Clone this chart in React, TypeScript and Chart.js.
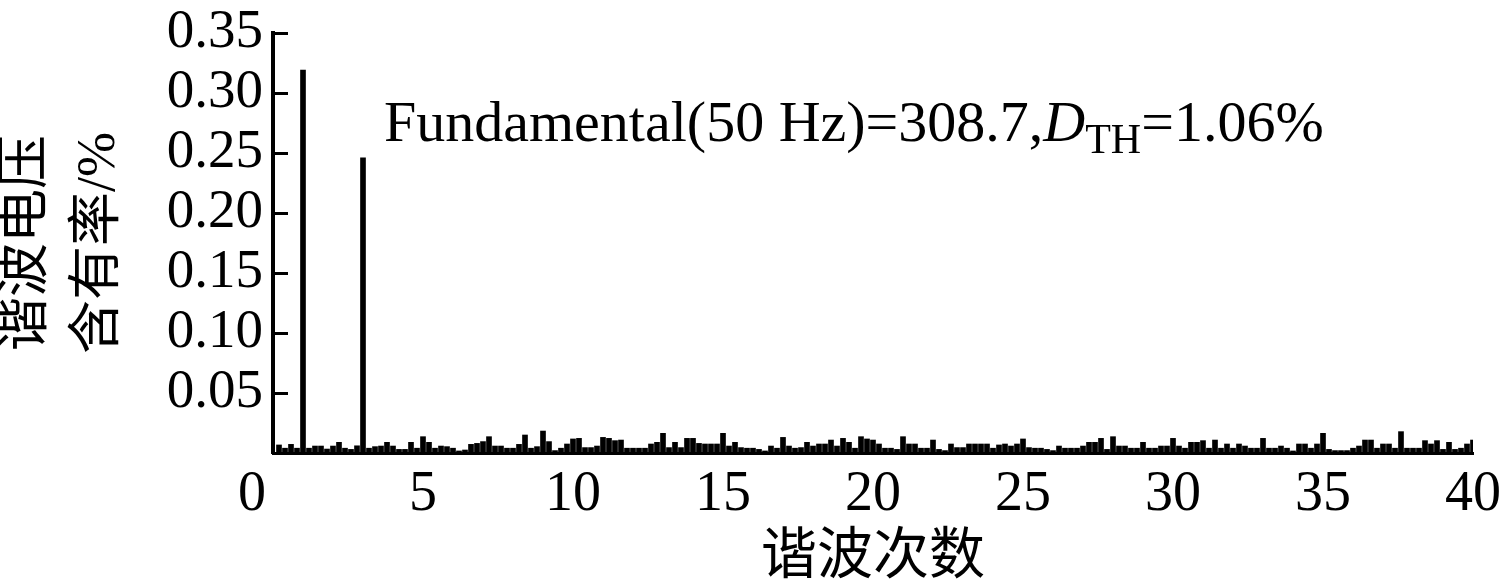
import React, { useEffect, useRef } from 'react';
import { Chart, registerables } from 'chart.js';

Chart.register(...registerables);

// Harmonic order resolution (10 Hz bins on a 50 Hz fundamental)
const ORDER_STEP = 0.2;

// Harmonic voltage content (%) for orders 0.2, 0.4, ... 40.0
const HARMONIC_VALUES: number[] = [
  0.0067, 0.004, 0.0072, 0.004, 0.319, 0.004, 0.0058, 0.0058, 0.0033, 0.0058,
  0.0089, 0.004, 0.003, 0.006, 0.246, 0.004, 0.0053, 0.0058, 0.0089, 0.0058,
  0.003, 0.003, 0.0089, 0.004, 0.0136, 0.0089, 0.004, 0.0058, 0.0053, 0.004,
  0.0017, 0.0025, 0.0072, 0.008, 0.0095, 0.0136, 0.0058, 0.0058, 0.004, 0.004,
  0.0072, 0.015, 0.004, 0.0053, 0.0183, 0.0095, 0.002, 0.004, 0.0075, 0.0117,
  0.0122, 0.0045, 0.0045, 0.0058, 0.013, 0.0122, 0.0103, 0.0108, 0.004, 0.004,
  0.004, 0.004, 0.0075, 0.0089, 0.0164, 0.0045, 0.0089, 0.0045, 0.0122, 0.0122,
  0.008, 0.0075, 0.0075, 0.0075, 0.0164, 0.0058, 0.0089, 0.0045, 0.004, 0.004,
  0.003, 0.0017, 0.0058, 0.004, 0.013, 0.0058, 0.004, 0.0045, 0.0089, 0.0058,
  0.0075, 0.0075, 0.0108, 0.0058, 0.0122, 0.0089, 0.004, 0.0136, 0.0117, 0.0108,
  0.0075, 0.004, 0.004, 0.003, 0.0136, 0.0075, 0.0075, 0.004, 0.004, 0.0108,
  0.003, 0.002, 0.0075, 0.0045, 0.0045, 0.0075, 0.0075, 0.0075, 0.0075, 0.004,
  0.0067, 0.0075, 0.0058, 0.0075, 0.0117, 0.0045, 0.004, 0.004, 0.003, 0.002,
  0.0058, 0.004, 0.004, 0.004, 0.0058, 0.0089, 0.0089, 0.0122, 0.003, 0.0136,
  0.0058, 0.0058, 0.004, 0.004, 0.0089, 0.004, 0.004, 0.0058, 0.0058, 0.0122,
  0.0058, 0.004, 0.0089, 0.0089, 0.0103, 0.004, 0.0108, 0.004, 0.0075, 0.004,
  0.0075, 0.0058, 0.004, 0.004, 0.0122, 0.004, 0.004, 0.0058, 0.004, 0.0017,
  0.0075, 0.0075, 0.004, 0.0075, 0.0164, 0.003, 0.002, 0.002, 0.002, 0.004,
  0.0058, 0.0108, 0.0108, 0.004, 0.0075, 0.0075, 0.004, 0.0178, 0.004, 0.004,
  0.004, 0.0103, 0.0075, 0.0103, 0.003, 0.0089, 0.003, 0.004, 0.0075, 0.0108,
];

const X_MIN = 0;
const X_MAX = 40;
const X_STEP = 5;
const Y_MIN = 0;
const Y_MAX = 0.35;
const Y_STEP = 0.05;

const Y_TITLE = ['谐波电压', '含有率/%'];
const X_TITLE = '谐波次数';

const ANNOT_MAIN = 'Fundamental(50 Hz)=308.7,';
const ANNOT_VAR = 'D';
const ANNOT_SUB = 'TH';
const ANNOT_TAIL = '=1.06%';
const ANNOT_X = 3.7;
const ANNOT_Y = 0.26;

const SERIF = '"Liberation Serif", "Times New Roman", "Noto Sans CJK SC", serif';

export default function App() {
  const canvasRef = useRef<HTMLCanvasElement | null>(null);

  useEffect(() => {
    if (!canvasRef.current) return;
    const points = HARMONIC_VALUES.map((v, i) => ({
      x: Math.round((i + 1) * ORDER_STEP * 10) / 10,
      y: v,
    }));

    const innerTicks = {
      id: 'innerTicks',
      afterDatasetsDraw(chart: any) {
        const { ctx, chartArea, scales } = chart;
        const ys = scales.y;
        ctx.save();
        ctx.strokeStyle = '#000';
        ctx.lineWidth = 3;
        ys.ticks.forEach((t: any) => {
          if (t.value === 0) return;
          const py = Math.round(ys.getPixelForValue(t.value)) + 0.5;
          ctx.beginPath();
          ctx.moveTo(chartArea.left, py);
          ctx.lineTo(chartArea.left + 15, py);
          ctx.stroke();
        });
        ctx.restore();
      },
    };

    const annotation = {
      id: 'annotText',
      afterDraw(chart: any) {
        const { ctx, scales } = chart;
        let x = scales.x.getPixelForValue(ANNOT_X);
        const y = scales.y.getPixelForValue(ANNOT_Y);
        ctx.save();
        ctx.fillStyle = '#000';
        ctx.textBaseline = 'alphabetic';
        ctx.textAlign = 'left';
        ctx.font = `58px ${SERIF}`;
        ctx.fillText(ANNOT_MAIN, x, y);
        x += ctx.measureText(ANNOT_MAIN).width;
        ctx.font = `italic 58px ${SERIF}`;
        ctx.fillText(ANNOT_VAR, x, y);
        x += ctx.measureText(ANNOT_VAR).width;
        ctx.font = `42px ${SERIF}`;
        ctx.fillText(ANNOT_SUB, x, y + 12);
        x += ctx.measureText(ANNOT_SUB).width;
        ctx.font = `58px ${SERIF}`;
        ctx.fillText(ANNOT_TAIL, x, y);
        ctx.restore();
      },
    };

    const chart = new Chart(canvasRef.current, {
      type: 'bar',
      data: {
        datasets: [
          {
            data: points as any,
            backgroundColor: '#000',
            borderWidth: 0,
            barThickness: 5,
          },
        ],
      },
      options: {
        animation: false,
        responsive: true,
        maintainAspectRatio: false,
        layout: { padding: { top: 33, right: 32, left: 0, bottom: 0 } },
        plugins: {
          legend: { display: false },
          tooltip: { enabled: false },
        },
        scales: {
          x: {
            type: 'linear',
            min: X_MIN,
            max: X_MAX,
            offset: false,
            grid: { display: false, drawTicks: false },
            border: { display: true, color: '#000', width: 3 },
            ticks: {
              stepSize: X_STEP,
              color: '#000',
              padding: 9,
              maxRotation: 0,
              font: { family: SERIF, size: 56, lineHeight: 1.2 },
              callback: (v: any) => (Number(v) === 0 ? '0\u00a0\u00a0\u00a0' : String(v)),
            },
            title: {
              display: true,
              text: X_TITLE,
              color: '#000',
              font: { family: SERIF, size: 56, lineHeight: 1 },
              padding: { top: 0, bottom: 0 },
            },
            afterFit: (s: any) => {
              s.height = 133;
              s.paddingRight = 0;
              s.paddingLeft = 0;
            },
          },
          y: {
            min: Y_MIN,
            max: Y_MAX,
            grid: { display: false, drawTicks: false },
            border: { display: true, color: '#000', width: 4 },
            ticks: {
              stepSize: Y_STEP,
              color: '#000',
              padding: 10,
              font: { family: SERIF, size: 55, lineHeight: 1 },
              callback: (v: any) => (Number(v) === 0 ? '' : Number(v).toFixed(2)),
            },
            title: {
              display: true,
              text: Y_TITLE,
              color: '#000',
              font: { family: SERIF, size: 54, lineHeight: 1.333 },
              padding: { top: -8, bottom: 0 },
            },
            afterFit: (s: any) => {
              s.width = 273;
              s.paddingTop = 0;
              s.paddingBottom = 0;
            },
          },
        },
      } as any,
      plugins: [innerTicks, annotation],
    });

    return () => chart.destroy();
  }, []);

  return (
    <div
      style={{
        position: 'fixed',
        left: 0,
        top: 0,
        width: 1505,
        height: 586,
        background: '#fff',
      }}
    >
      <canvas ref={canvasRef} />
    </div>
  );
}
